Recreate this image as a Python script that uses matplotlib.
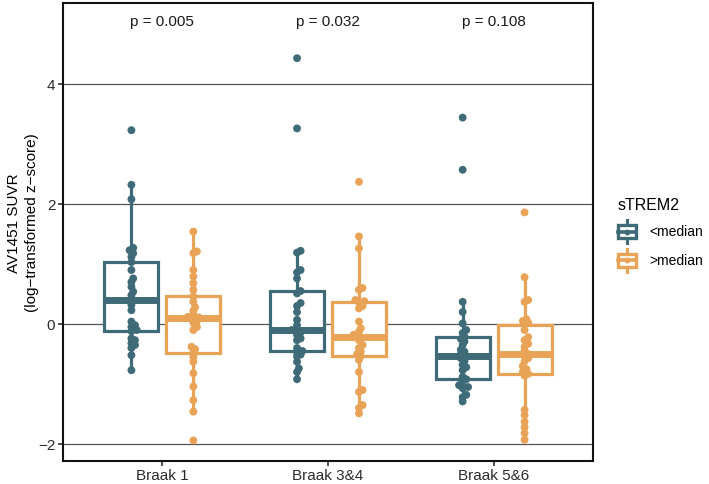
import numpy as np
import matplotlib
matplotlib.use("Agg")
import matplotlib.pyplot as plt
from matplotlib.legend_handler import HandlerBase
from matplotlib.patches import Rectangle, Patch
from matplotlib.lines import Line2D

plt.rcParams['font.family'] = ['Liberation Sans', 'DejaVu Sans']

categories = ["Braak 1", "Braak 3&4", "Braak 5&6"]
groups = ["<median", ">median"]
p_values = ["p = 0.005", "p = 0.032", "p = 0.108"]

low_braak1 = [3.23, 2.32, 2.08, 1.27, 1.23, 1.18, 1.12, 1.03, 0.90, 0.76, 0.70, 0.62, 0.54, 0.48,
              0.40, 0.32, 0.23, 0.04, -0.02, -0.05, -0.10, -0.12, -0.24, -0.27, -0.32, -0.35,
              -0.40, -0.52, -0.77]
high_braak1 = [1.54, 1.21, 1.18, 0.90, 0.79, 0.68, 0.57, 0.46, 0.37, 0.28, 0.22, 0.15, 0.12, 0.11,
               0.10, 0.05, 0.02, -0.05, -0.10, -0.38, -0.42, -0.48, -0.55, -0.63, -0.82, -1.04,
               -1.27, -1.46, -1.94]
low_braak34 = [4.43, 3.26, 1.22, 1.19, 0.90, 0.86, 0.76, 0.55, 0.51, 0.35, 0.30, 0.20, 0.07, -0.02,
               -0.10, -0.11, -0.14, -0.18, -0.24, -0.27, -0.40, -0.45, -0.47, -0.51, -0.54, -0.63,
               -0.74, -0.80, -0.92]
high_braak34 = [2.37, 1.46, 1.26, 0.60, 0.57, 0.40, 0.38, 0.36, 0.30, 0.26, 0.04, -0.07, -0.13,
                -0.18, -0.21, -0.23, -0.27, -0.35, -0.40, -0.46, -0.50, -0.54, -0.60, -0.80,
                -1.10, -1.13, -1.35, -1.40, -1.49]
low_braak56 = [3.44, 2.57, 0.37, 0.20, 0.01, -0.10, -0.15, -0.21, -0.25, -0.29, -0.35, -0.43,
               -0.46, -0.50, -0.54, -0.57, -0.62, -0.68, -0.72, -0.77, -0.88, -0.92, -0.95,
               -1.02, -1.05, -1.07, -1.18, -1.22, -1.29]
high_braak56 = [1.86, 0.78, 0.40, 0.37, 0.08, 0.05, 0.02, -0.01, -0.10, -0.22, -0.27, -0.33,
                -0.38, -0.45, -0.50, -0.53, -0.57, -0.62, -0.70, -0.75, -0.80, -0.83, -0.86,
                -1.43, -1.52, -1.63, -1.72, -1.82, -1.93]

low_series = [low_braak1, low_braak34, low_braak56]
high_series = [high_braak1, high_braak34, high_braak56]

colors = {"<median": "#3e6b77", ">median": "#e8a357"}

W, H = 709, 484
fig = plt.figure(figsize=(W / 100, H / 100), dpi=100)
ax_left, ax_right, ax_top, ax_bot = 63, 593, 3, 461
ax_w_px = ax_right - ax_left
ax = fig.add_axes([ax_left / W, 1 - ax_bot / H, ax_w_px / W, (ax_bot - ax_top) / H])

ymin, ymax = -2.283, 5.35
ax.set_xlim(-0.6, 2.6)
ax.set_ylim(ymin, ymax)

ppu_x = ax_w_px / 3.2
ppu_y = (ax_bot - ax_top) / (ymax - ymin)


def swarm_offsets(vals, step_px=1.8, min_dist_px=3.8):
    vals = np.asarray(vals, dtype=float)
    order = np.argsort(vals)
    placed = []
    offs = np.zeros(len(vals))
    for i in order:
        y = vals[i] * ppu_y
        chosen = 0.0
        for k in [0, 1, -1, 2, -2, 3, -3]:
            x = k * step_px
            if all((x - px) ** 2 + (y - py) ** 2 >= min_dist_px ** 2 for px, py in placed):
                chosen = x
                break
        placed.append((chosen, y))
        offs[i] = chosen / ppu_x
    return offs


for yv in [-2, 0, 2, 4]:
    ax.axhline(yv, color="#555555", lw=0.9, zorder=0)

dodge = 0.187
box_w = 0.325
for gi, (g, series) in enumerate(zip(groups, [low_series, high_series])):
    c = colors[g]
    pos = [i + (-dodge if gi == 0 else dodge) for i in range(len(categories))]
    ax.boxplot(series, positions=pos, widths=box_w, whis=1.5, showfliers=False,
               patch_artist=True, manage_ticks=False,
               boxprops=dict(facecolor="white", edgecolor=c, linewidth=2.3),
               whiskerprops=dict(color=c, linewidth=2.3, solid_capstyle="butt"),
               capprops=dict(visible=False),
               medianprops=dict(color=c, linewidth=5.0, solid_capstyle="butt"),
               zorder=2)
    for p, vals in zip(pos, series):
        offs = swarm_offsets(vals)
        ax.scatter(p + offs, vals, s=32, color=c, edgecolors="none", zorder=3)

for i, txt in enumerate(p_values):
    ax.text(i, 5.03, txt, ha="center", va="center", fontsize=11, color="#1a1a1a")

ax.set_xticks(range(len(categories)))
ax.set_xticklabels(categories, fontsize=11, color="#2b2b2b")
ax.set_yticks([-2, 0, 2, 4])
ax.set_yticklabels(["\u22122", "0", "2", "4"], fontsize=11, color="#2b2b2b")
ax.tick_params(axis="both", length=3.5, width=1.2, color="#333333", pad=2)
for s in ax.spines.values():
    s.set_linewidth(1.5)
    s.set_color("#111111")

ax.set_ylabel("AV1451 SUVR\n(log\u2212transformed z\u2212score)", fontsize=11, linespacing=1.3)
ax.yaxis.label.set_va("center")
ax.yaxis.set_label_coords(-40.0 / ax_w_px, 0.52)


class BoxHandler(HandlerBase):
    def create_artists(self, legend, orig_handle, xdescent, ydescent, width, height, fontsize, trans):
        c = orig_handle.get_edgecolor()
        cx = width / 2 - xdescent
        cy = height / 2 - ydescent
        bw, bh = 13.0, 9.5
        arts = []
        arts.append(Line2D([cx, cx], [cy - bh / 2 - 3.5, cy + bh / 2 + 3.5], color=c, lw=2.2,
                           transform=trans))
        arts.append(Rectangle((cx - bw / 2, cy - bh / 2), bw, bh, facecolor="white", edgecolor=c,
                              lw=2.4, transform=trans))
        arts.append(Line2D([cx - bw / 2, cx + bw / 2], [cy, cy], color=c, lw=2.6, transform=trans))
        arts.append(Line2D([cx], [cy], marker="o", markersize=3.2, color=c, lw=0, transform=trans))
        return arts


handles = [Patch(edgecolor=colors[g], facecolor="white") for g in groups]
leg = fig.legend(handles, groups, title="sTREM2", loc="upper left",
                 bbox_to_anchor=(605 / W, 1 - 186 / H), frameon=False, fontsize=10,
                 title_fontsize=11.5, handler_map={Patch: BoxHandler()},
                 handlelength=1.3, handleheight=1.9, handletextpad=1.0, labelspacing=0.58)
leg._legend_box.align = "left"

fig.savefig("out.png", dpi=100)
